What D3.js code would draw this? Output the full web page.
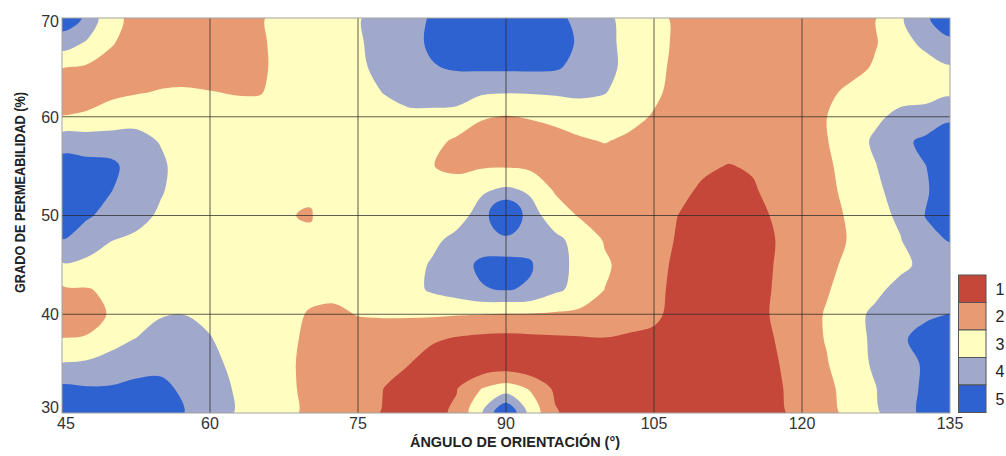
<!DOCTYPE html>
<html>
<head>
<meta charset="utf-8">
<script src="https://cdn.jsdelivr.net/npm/d3@7"></script>
<style>
  html, body { margin: 0; padding: 0; background: #ffffff; }
  svg { display: block; font-family: "Liberation Sans", Arial, Helvetica, sans-serif; }
</style>
</head>
<body>
<svg id="chart" width="1006" height="456"></svg>
<script>
// Sampling grid: orientation angle (°) across, permeability (%) down.
const angles = [45, 47.5, 50, 52.5, 55, 57.5, 60, 62.5, 65, 67.5, 70, 72.5, 75, 77.5, 80, 82.5, 85, 87.5, 90,
                92.5, 95, 97.5, 100, 102.5, 105, 107.5, 110, 112.5, 115, 117.5, 120, 122.5, 125, 127.5, 130, 132.5, 135];
const permeability = [70, 67.5, 65, 62.5, 60, 57.5, 55, 52.5, 50, 47.5, 45, 42.5, 40, 37.5, 35, 32.5, 30];

// Class score at each grid node, one row per permeability level.
const grado70   = [5.1, 4.35, 2.6, 2.4, 2.0, 2.0, 2.0, 2.0, 2.38, 2.88, 3.0, 3.0, 3.42, 3.92, 4.1, 4.6, 5.0, 5.0, 5.0, 5.0, 4.74, 4.24, 3.7, 3.2, 2.8, 2.3, 2.0, 2.0, 2.0, 2.0, 2.0, 2.0, 2.0, 2.48, 3.36, 4.42, 4.85];
const grado67_5 = [4.0, 3.4, 2.58, 2.08, 2.0, 2.0, 2.0, 2.0, 2.34, 2.84, 3.0, 3.0, 3.38, 3.88, 4.18, 4.65, 4.95, 5.0, 5.0, 5.0, 4.88, 4.38, 3.74, 3.24, 2.82, 2.32, 2.0, 2.0, 2.0, 2.0, 2.0, 2.0, 2.0, 2.44, 3.2, 3.7, 4.38];
const grado65   = [2.52, 2.38, 2.14, 2.0, 2.06, 2.1, 2.04, 2.0, 2.32, 2.82, 3.0, 3.0, 3.3, 3.8, 4.0, 4.44, 4.6, 4.66, 4.68, 4.68, 4.62, 4.2, 3.76, 3.26, 2.76, 2.26, 2.0, 2.0, 2.0, 2.0, 2.0, 2.0, 2.14, 2.64, 3.05, 3.16, 3.38];
const grado62_5 = [2.0, 2.12, 2.26, 2.42, 2.56, 2.6, 2.53, 2.44, 2.42, 2.92, 3.0, 3.0, 3.07, 3.52, 3.8, 3.82, 3.9, 3.64, 3.56, 3.58, 3.64, 3.68, 3.55, 3.06, 2.68, 2.18, 2.0, 2.0, 2.0, 2.0, 2.0, 2.26, 2.76, 3.0, 3.2, 3.26, 3.3];
const grado60   = [2.52, 2.62, 3.0, 3.26, 3.05, 3.0, 3.0, 2.92, 3.0, 3.0, 3.0, 3.0, 3.0, 3.14, 3.3, 3.32, 3.2, 2.58, 2.46, 2.56, 2.7, 3.0, 3.0, 2.78, 2.42, 2.12, 2.0, 2.0, 2.0, 2.0, 2.02, 2.49, 3.1, 3.36, 3.7, 3.76, 4.38];
const grado57_5 = [4.1, 4.05, 3.9, 3.74, 3.46, 3.0, 3.0, 3.0, 3.0, 3.0, 3.0, 3.0, 3.0, 3.0, 3.0, 2.8, 2.32, 2.08, 2.0, 2.06, 2.2, 2.36, 2.54, 2.32, 2.15, 2.0, 2.0, 2.0, 2.0, 2.0, 2.0, 2.45, 3.14, 3.64, 4.24, 4.74, 4.88];
const grado55   = [4.9, 4.78, 4.75, 4.0, 3.64, 3.14, 3.0, 3.0, 3.0, 3.0, 3.0, 3.0, 3.0, 3.0, 3.0, 2.52, 2.34, 2.4, 2.42, 2.28, 2.02, 2.0, 2.0, 2.0, 2.0, 2.0, 1.7, 1.45, 1.6, 1.98, 2.0, 2.36, 2.86, 3.48, 4.0, 4.48, 5.0];
const grado52_5 = [5.0, 4.98, 4.52, 4.02, 3.58, 3.08, 3.0, 3.0, 3.0, 2.95, 2.7, 3.0, 3.0, 3.0, 3.0, 3.0, 2.84, 3.38, 3.7, 3.38, 2.4, 2.12, 2.0, 2.0, 2.0, 1.8, 1.3, 1.0, 1.38, 1.88, 2.0, 2.28, 2.78, 3.34, 3.84, 4.42, 4.92];
const grado50   = [5.0, 4.62, 4.2, 3.82, 3.36, 3.0, 3.0, 3.0, 3.0, 2.6, 2.4, 3.0, 3.0, 3.0, 3.0, 3.0, 3.1, 3.9, 5.9, 3.84, 3.05, 2.4, 2.08, 2.0, 2.0, 1.48, 1.0, 1.0, 1.16, 1.66, 2.0, 2.16, 2.66, 3.18, 3.68, 4.52, 4.95];
const grado47_5 = [4.48, 4.0, 3.52, 3.32, 3.1, 3.0, 3.0, 3.0, 3.0, 3.0, 2.75, 3.0, 3.0, 3.0, 3.0, 3.28, 3.78, 4.2, 4.2, 4.2, 3.7, 3.2, 2.42, 2.0, 1.9, 1.4, 1.0, 1.0, 1.04, 1.54, 2.0, 2.1, 2.6, 3.05, 3.46, 4.3, 4.54];
const grado45   = [3.4, 3.28, 3.06, 3.0, 3.0, 3.0, 3.0, 3.0, 3.0, 3.0, 3.0, 3.0, 3.0, 3.0, 3.1, 3.6, 4.24, 4.62, 4.65, 4.58, 3.78, 3.28, 2.64, 2.14, 1.8, 1.3, 1.0, 1.0, 1.08, 1.58, 2.0, 2.26, 2.76, 3.0, 3.29, 3.74, 4.04];
const grado42_5 = [2.34, 2.44, 2.68, 3.0, 3.0, 3.02, 3.0, 3.0, 3.0, 3.0, 2.81, 2.76, 2.95, 3.0, 3.14, 3.64, 4.0, 4.45, 4.55, 4.4, 3.68, 3.2, 2.49, 2.0, 1.74, 1.24, 1.0, 1.0, 1.12, 1.62, 2.0, 2.42, 2.92, 3.3, 3.8, 4.0, 4.02];
const grado40   = [2.0, 2.1, 2.6, 3.0, 3.42, 3.48, 3.25, 3.05, 3.0, 2.9, 2.42, 2.3, 2.54, 2.58, 2.6, 2.62, 2.56, 2.52, 2.46, 2.44, 2.38, 2.28, 2.15, 1.85, 1.68, 1.18, 1.0, 1.0, 1.16, 1.66, 2.08, 2.58, 3.2, 3.7, 4.2, 4.34, 4.52];
const grado37_5 = [2.52, 2.58, 3.26, 3.52, 3.92, 4.0, 3.56, 3.06, 3.0, 2.8, 2.3, 2.1, 2.04, 2.08, 1.94, 1.64, 1.4, 1.26, 1.22, 1.28, 1.34, 1.4, 1.46, 1.38, 1.3, 1.0, 1.0, 1.0, 1.06, 1.56, 2.06, 2.56, 3.18, 3.68, 4.36, 4.84, 5.0];
const grado35   = [3.54, 3.64, 3.76, 4.2, 4.26, 4.22, 3.78, 3.28, 3.0, 2.74, 2.24, 2.0, 2.0, 1.84, 1.56, 1.05, 1.2, 0.7, 0.85, 0.6, 1.15, 1.0, 1.0, 1.0, 1.0, 1.0, 1.0, 1.0, 1.0, 1.46, 1.96, 2.44, 3.14, 3.64, 4.12, 4.62, 5.0];
const grado32_5 = [4.7, 4.58, 4.6, 4.7, 4.72, 4.32, 3.94, 3.44, 3.0, 2.76, 2.26, 2.0, 2.0, 1.52, 1.04, 1.05, 1.45, 2.48, 2.94, 2.4, 1.3, 1.0, 1.0, 1.0, 1.0, 1.0, 1.0, 1.0, 1.0, 1.38, 1.88, 2.32, 2.82, 3.48, 4.14, 4.64, 5.0];
const grado30   = [5.0, 5.0, 5.0, 5.0, 5.0, 4.48, 4.0, 3.48, 3.0, 2.8, 2.3, 2.0, 1.94, 1.44, 1.0, 1.2, 1.67, 3.4, 5.6, 3.1, 1.6, 1.0, 1.0, 1.0, 1.0, 1.0, 1.0, 1.0, 1.0, 1.32, 1.82, 2.2, 2.8, 3.36, 4.18, 4.68, 5.0];

const gridRows = [grado70, grado67_5, grado65, grado62_5, grado60, grado57_5, grado55, grado52_5, grado50,
                  grado47_5, grado45, grado42_5, grado40, grado37_5, grado35, grado32_5, grado30];

// Classes, their colours and the breaks between them.
const classLabels = ["1", "2", "3", "4", "5"];
const classColors = ["#C5473A", "#E89B73", "#FFFDC0", "#A0A8CB", "#2F62D1"];
const classBreaks = [1.5, 2.5, 3.5, 4.5];

const xTicks = [45, 60, 75, 90, 105, 120, 135];
const yTicks = [30, 40, 50, 60, 70];
const xTitle = "ÁNGULO DE ORIENTACIÓN (°)";
const yTitle = "GRADO DE PERMEABILIDAD (%)";

// ---- layout ----
const plot = { left: 62, right: 950, top: 18, bottom: 413 };
const x = d3.scaleLinear().domain([45, 135]).range([plot.left, plot.right]);
const y = d3.scaleLinear().domain([30, 70]).range([plot.bottom, plot.top]);

const nx = angles.length, ny = permeability.length;
// contour grid coordinates -> data coordinates (node i sits at i + 0.5)
const gx = d3.scaleLinear().domain([0.5, nx - 0.5]).range([angles[0], angles[nx - 1]]);
const gy = d3.scaleLinear().domain([0.5, ny - 0.5]).range([permeability[0], permeability[ny - 1]]);

const values = gridRows.flat();
const bands = d3.contours().size([nx, ny]).thresholds(classBreaks)(values);

const svg = d3.select("#chart");
svg.append("defs").append("clipPath").attr("id", "plotClip")
  .append("rect")
  .attr("x", plot.left).attr("y", plot.top)
  .attr("width", plot.right - plot.left).attr("height", plot.bottom - plot.top);

const field = svg.append("g").attr("clip-path", "url(#plotClip)");

// lowest class fills the whole area, higher classes are stacked on top
field.append("rect")
  .attr("x", plot.left).attr("y", plot.top)
  .attr("width", plot.right - plot.left).attr("height", plot.bottom - plot.top)
  .attr("fill", classColors[0]);

// smooth each contour ring; small isolated islands get a rounder spline
const ringLine = d3.line().curve(d3.curveCatmullRomClosed.alpha(0.5));
const islandLine = d3.line().curve(d3.curveCardinalClosed.tension(-0.55));
function touchesEdge(ring) {
  return ring.some(([c, r]) => c <= 0 || c >= nx || r <= 0 || r >= ny);
}
function bandPath(band) {
  let d = "";
  for (const polygon of band.coordinates) {
    for (const ring of polygon) {
      const pts = ring.slice(0, -1).map(([c, r]) => [x(gx(c)), y(gy(r))]);
      if (pts.length < 3) continue;
      const small = pts.length <= 8 && !touchesEdge(ring);
      d += (small ? islandLine : ringLine)(pts);
    }
  }
  return d;
}

field.selectAll("path.band")
  .data(bands)
  .join("path")
  .attr("class", "band")
  .attr("d", bandPath)
  .attr("fill", (d, i) => classColors[i + 1])
  .attr("fill-rule", "evenodd");

// grid lines
const grid = svg.append("g").attr("stroke", "#2a2a2a").attr("stroke-opacity", 0.75).attr("stroke-width", 1);
grid.selectAll("line.vx")
  .data(xTicks.filter(t => t > 45 && t < 135))
  .join("line")
  .attr("x1", d => x(d)).attr("x2", d => x(d))
  .attr("y1", plot.top).attr("y2", plot.bottom);
grid.selectAll("line.hy")
  .data(yTicks.filter(t => t > 30 && t < 70))
  .join("line")
  .attr("x1", plot.left).attr("x2", plot.right)
  .attr("y1", d => y(d)).attr("y2", d => y(d));

// frame
svg.append("rect")
  .attr("x", plot.left).attr("y", plot.top)
  .attr("width", plot.right - plot.left).attr("height", plot.bottom - plot.top)
  .attr("fill", "none").attr("stroke", "#a3a3a3").attr("stroke-width", 1);

// tick labels
svg.append("g").selectAll("text")
  .data(xTicks)
  .join("text")
  .attr("x", d => Math.max(x(d), plot.left + 4))
  .attr("y", 429)
  .attr("text-anchor", "middle")
  .attr("font-size", 16)
  .attr("fill", "#333")
  .text(d => d);

svg.append("g").selectAll("text")
  .data(yTicks)
  .join("text")
  .attr("x", plot.left - 3)
  .attr("y", d => Math.min(Math.max(y(d) + 5.8, plot.top + 8.7), plot.bottom))
  .attr("text-anchor", "end")
  .attr("font-size", 16)
  .attr("fill", "#333")
  .text(d => d);

// axis titles
svg.append("text")
  .attr("x", 515).attr("y", 447)
  .attr("text-anchor", "middle")
  .attr("font-size", 15).attr("font-weight", "bold")
  .attr("fill", "#222")
  .attr("textLength", 210).attr("lengthAdjust", "spacingAndGlyphs")
  .text(xTitle);

svg.append("text")
  .attr("transform", "translate(25,192.5) rotate(-90)")
  .attr("text-anchor", "middle")
  .attr("font-size", 15).attr("font-weight", "bold")
  .attr("fill", "#222")
  .attr("textLength", 201).attr("lengthAdjust", "spacingAndGlyphs")
  .text(yTitle);

// legend
const legendBox = { x: 958.5, y: 275, w: 27.5, h: 27.5 };
const legend = svg.append("g");
legend.selectAll("rect")
  .data(classLabels)
  .join("rect")
  .attr("x", legendBox.x)
  .attr("y", (d, i) => legendBox.y + i * legendBox.h)
  .attr("width", legendBox.w).attr("height", legendBox.h)
  .attr("fill", (d, i) => classColors[i])
  .attr("stroke", "#555").attr("stroke-width", 1);
legend.selectAll("text")
  .data(classLabels)
  .join("text")
  .attr("x", 1000)
  .attr("y", (d, i) => legendBox.y + i * legendBox.h + legendBox.h / 2 + 6)
  .attr("text-anchor", "middle")
  .attr("font-size", 16)
  .attr("fill", "#222")
  .text(d => d);
</script>
</body>
</html>
